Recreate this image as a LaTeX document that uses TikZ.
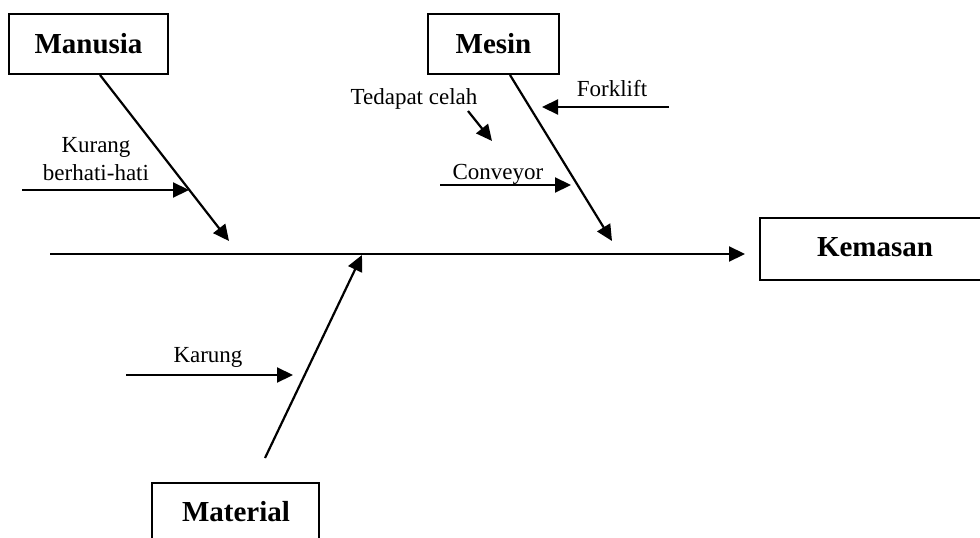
\documentclass[tikz,border=0pt]{standalone}
\usepackage{fontspec}
\setmainfont{Liberation Serif}
\usetikzlibrary{arrows.meta}
\begin{document}
\begin{tikzpicture}[x=1pt,y=-1pt,
  catbox/.style={draw,line width=1.8pt,inner sep=0pt,font=\fontsize{29}{34}\selectfont\bfseries},
  cattext/.style={inner sep=0pt,font=\fontsize{29}{34}\selectfont\bfseries},
  lbl/.style={inner sep=0pt,font=\fontsize{23}{28}\selectfont,align=center},
  arr/.style={line width=2.2pt,-{Triangle[length=16pt,width=15pt]}},
  bone/.style={line width=2.2pt}]
\useasboundingbox (0,0) rectangle (980,538);
\clip (0,0) rectangle (980,538);
% category boxes
\node[catbox,minimum width=159pt,minimum height=60pt] (man) at (88.5,44) {Manusia};
\node[catbox,minimum width=131pt,minimum height=60pt] (mes) at (493.5,44) {Mesin};
\node[catbox,minimum width=230pt,minimum height=62pt] (kem) at (875,249) {};
\node[cattext] (kemt) at (875,247) {Kemasan};
\node[catbox,minimum width=167pt,minimum height=60pt] (mat) at (235.5,513) {};
\node[cattext] (matt) at (236,512) {Material};
% spine
\coordinate (s0) at (50,254);
\coordinate (s1) at (745,254);
\draw[arr] (s0) -- (s1);
% main bones
\coordinate (manA) at (100,75);
\coordinate (manB) at (229,241);
\draw[arr] (manA) -- (manB);
\coordinate (mesA) at (510,75);
\coordinate (mesB) at (612,241);
\draw[arr] (mesA) -- (mesB);
\coordinate (matA) at (265,458);
\coordinate (matB) at (362,255);
\draw[arr] (matA) -- (matB);
% sub causes
\coordinate (k0) at (22,190);
\coordinate (k1) at (189,190);
\draw[arr] (k0) -- (k1);
\node[lbl] (kur) at (96,159) {Kurang\\berhati-hati};
\coordinate (f0) at (669,107);
\coordinate (f1) at (542,107);
\draw[arr] (f0) -- (f1);
\node[lbl] (fork) at (612,89) {Forklift};
\node[lbl] (ted) at (414,99) {Tedapat celah};
\coordinate (t0) at (468,111);
\coordinate (t1) at (492,141);
\draw[arr] (t0) -- (t1);
\coordinate (c0) at (440,185);
\coordinate (c1) at (571,185);
\draw[arr] (c0) -- (c1);
\node[lbl] (conv) at (498,174) {Conveyor};
\coordinate (r0) at (126,375);
\coordinate (r1) at (293,375);
\draw[arr] (r0) -- (r1);
\node[lbl] (kar) at (208,357) {Karung};
\end{tikzpicture}
\end{document}
